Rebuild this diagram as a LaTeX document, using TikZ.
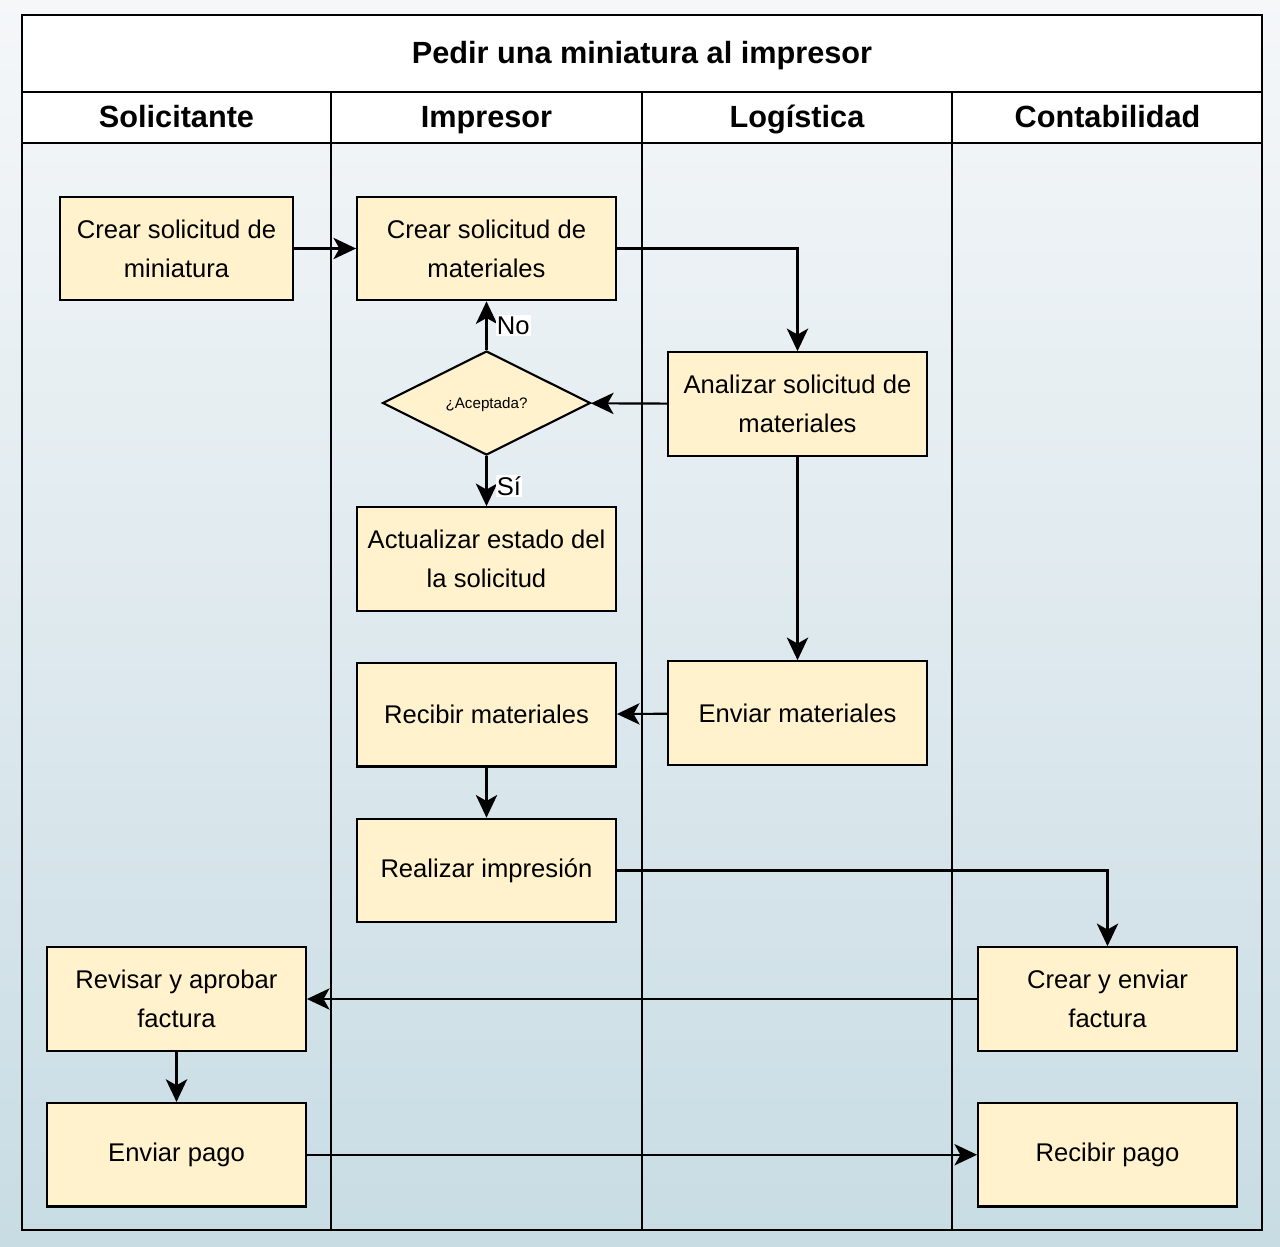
\documentclass[tikz,border=0pt]{standalone}
\usepackage{fontspec}
\setmainfont{Liberation Sans}
\usepackage{xcolor}
\usepackage{tikz}
\usetikzlibrary{arrows.meta, positioning, shapes.geometric}

\definecolor{bgtop}{HTML}{F5F7F9}
\definecolor{bgbot}{HTML}{C8DCE4}
\definecolor{taskfill}{HTML}{FFF2CC}

\begin{document}
\begin{tikzpicture}[
  x=0.75pt, y=-0.75pt,
  node distance=37.6pt and 37.6pt,
  lane/.style={draw, line width=1.7pt},
  head/.style={font=\fontsize{23}{28}\selectfont\bfseries, anchor=base},
  task/.style={draw, line width=1.6pt, fill=taskfill, minimum width=194pt,
               minimum height=77.6pt, align=center, inner sep=2pt,
               font=\fontsize{19.2}{29.3}\selectfont},
  decision/.style={draw, diamond, line width=1.6pt, fill=taskfill, aspect=2,
               minimum width=156pt, minimum height=78pt, inner sep=0pt,
               text depth=0pt, font=\fontsize{11.4}{14}\selectfont},
  arr/.style={-{Stealth[length=17pt, width=16pt, inset=4.5pt]}, line width=1.6pt},
  lbl/.style={fill=white, inner sep=1pt, font=\fontsize{19.2}{22}\selectfont},
]

% Background
\fill[top color=bgtop, bottom color=bgbot] (0,0) rectangle (1280,1246);
\useasboundingbox (0,0) rectangle (1280,1246);

% Pool and lanes
\fill[white] (22,15) rectangle (1262,143);
\draw[lane] (22,92) -- (1262,92);
\draw[lane] (22,143) -- (1262,143);
\foreach \lx in {331,642,952}
  \draw[lane] (\lx,92) -- (\lx,1230);
\draw[lane, line width=2pt] (22,15) rectangle (1262,1230);

\node[head] (title) at (642,63) {Pedir una miniatura al impresor};
\node[head] (hsol) at (176.5,127.5) {Solicitante};
\node[head] (himp) at (486.5,127.5) {Impresor};
\node[head] (hlog) at (797,127.5) {Logística};
\node[head] (hcon) at (1107.5,127.5) {Contabilidad};

% Solicitante
\node[task, minimum width=175pt] (miniatura) at (176.5,248.5) {Crear solicitud de\\miniatura};
\node[task] (revisar) at (176.5,999) {Revisar y aprobar\\factura};
\node[task, below=of revisar] (pago) {Enviar pago};

% Impresor
\node[task] (materiales) at (486.5,248.5) {Crear solicitud de\\materiales};
\node[decision] (aceptada) at (486.5,403) {¿Aceptada?};
\node[task] (actualizar) at (486.5,559) {Actualizar estado del\\la solicitud};
\node[task, below=of actualizar] (recibir) {Recibir materiales};
\node[task, below=of recibir] (impresion) {Realizar impresión};

% Logistica
\node[task] (analizar) at (797.5,404) {Analizar solicitud de\\materiales};
\node[task] (enviar) at (797.5,713) {Enviar materiales};

% Contabilidad
\node[task] (factura) at (1107.5,999) {Crear y enviar\\factura};
\node[task, below=of factura] (cobro) {Recibir pago};

% Arrows
\draw[arr] (miniatura) -- (materiales);
\draw[arr] (materiales.east) -| (analizar.north);
\draw[arr] (analizar) -- (aceptada);
\draw[arr] (aceptada) -- (materiales)
  node[lbl, midway, right=6pt] {No};
\draw[arr] (aceptada) -- (actualizar)
  node[lbl, pos=0.6, right=6pt] {Sí};
\draw[arr] (analizar) -- (enviar);
\draw[arr] (enviar) -- (recibir);
\draw[arr] (recibir) -- (impresion);
\draw[arr] (impresion.east) -| (factura.north);
\draw[arr] (factura) -- (revisar);
\draw[arr] (revisar) -- (pago);
\draw[arr] (pago) -- (cobro);

\end{tikzpicture}
\end{document}
